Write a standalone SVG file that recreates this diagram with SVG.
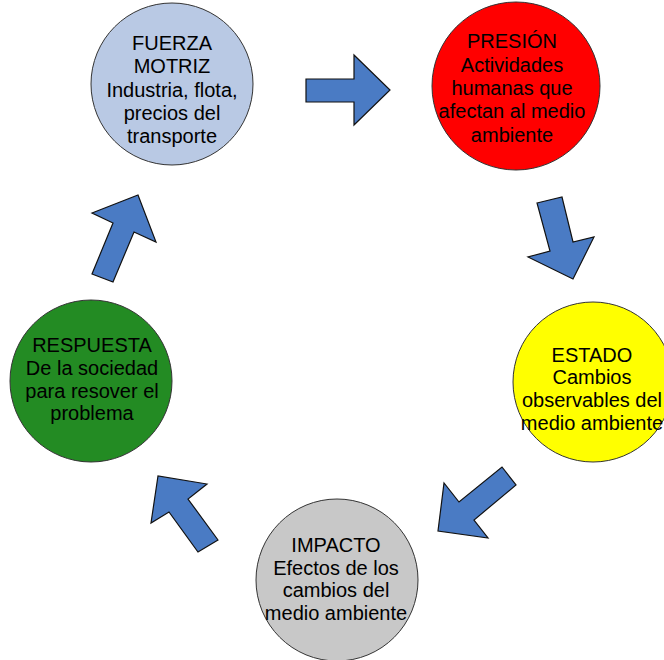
<svg xmlns="http://www.w3.org/2000/svg" width="664" height="660" viewBox="0 0 664 660">
<style>
.node{stroke:#333;stroke-width:1}
.t{font-family:"Liberation Sans",Arial,sans-serif;font-size:20px;fill:#000;text-anchor:middle}
.arr{fill:#4A7BC4;stroke:#111;stroke-width:1.2;stroke-linejoin:miter}
</style>
<rect width="664" height="660" fill="#fff"/>
<g id="connectors">
<polygon class="arr" points="306,79 354,79 354,55 390,90 354,125 354,102 306,102"/>
<polygon class="arr" points="537,203 562,197 573,242 594,237 573,279 528,257 550,251"/>
<polygon class="arr" points="502,467 516,485 474,520 488,538 438,531 444,483 459,502"/>
<polygon class="arr" points="218,540 198,552 169,512 151,523 158,476 207,484 188,499"/>
<polygon class="arr" points="92,274 113,282 134,232 156,242 138,195 92,213 113,223"/>
</g>
<g id="fuerza">
<circle class="node" cx="172" cy="84" r="81" fill="#B9C9E4"/>
<text class="t" x="172" y="50">FUERZA</text>
<text class="t" x="172" y="73">MOTRIZ</text>
<text class="t" x="172" y="97">Industria, flota,</text>
<text class="t" x="172" y="120">precios del</text>
<text class="t" x="172" y="143">transporte</text>
</g>
<g id="presion">
<circle class="node" cx="516" cy="86" r="84" fill="#FF0000"/>
<text class="t" x="512" y="48">PRESIÓN</text>
<text class="t" x="512" y="72">Actividades</text>
<text class="t" x="512" y="95">humanas que</text>
<text class="t" x="512" y="118">afectan al medio</text>
<text class="t" x="512" y="142">ambiente</text>
</g>
<g id="estado">
<circle class="node" cx="593" cy="382" r="80" fill="#FFFF00"/>
<text class="t" x="592" y="362">ESTADO</text>
<text class="t" x="592" y="384">Cambios</text>
<text class="t" x="592" y="407">observables del</text>
<text class="t" x="592" y="430">medio ambiente</text>
</g>
<g id="impacto">
<circle class="node" cx="337" cy="580" r="81" fill="#C8C8C8"/>
<text class="t" x="336" y="552">IMPACTO</text>
<text class="t" x="336" y="575">Efectos de los</text>
<text class="t" x="336" y="597">cambios del</text>
<text class="t" x="336" y="620">medio ambiente</text>
</g>
<g id="respuesta">
<circle class="node" cx="91" cy="381" r="81" fill="#238B23"/>
<text class="t" x="92" y="352">RESPUESTA</text>
<text class="t" x="92" y="375">De la sociedad</text>
<text class="t" x="92" y="398">para resover el</text>
<text class="t" x="92" y="420">problema</text>
</g>
</svg>
